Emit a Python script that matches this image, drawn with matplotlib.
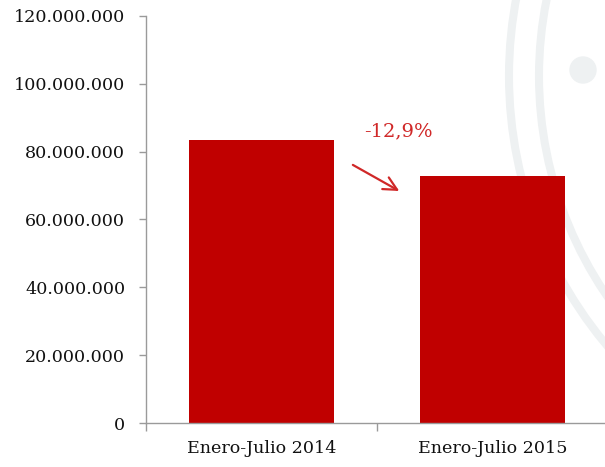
import matplotlib
matplotlib.use('Agg')
from matplotlib import pyplot as plt
from matplotlib.patches import Circle
from matplotlib.ticker import FuncFormatter

### DATA
categories = ['Enero-Julio 2014', 'Enero-Julio 2015']
values = [83_500_000, 72_700_000]
change_label = '-12,9%'
y_ticks = [0, 20_000_000, 40_000_000, 60_000_000, 80_000_000, 100_000_000, 120_000_000]

### STYLE
BAR_RED = '#c00000'
TEXT_RED = '#d02828'
AXIS_GREY = '#9a9a9a'
DECO_GREY = '#eef1f2'
plt.rcParams['font.family'] = ['DejaVu Serif']

W, H = 605, 467
fig = plt.figure(figsize=(W / 100, H / 100), dpi=100)

# faint decorative rings in the background, in inches from the bottom-left
for r in [420, 390]:
    fig.patches.append(Circle((929 / 100, (H - 76) / 100), r / 100, fill=False, color=DECO_GREY,
                              lw=5.8, transform=fig.dpi_scale_trans, zorder=-1))
fig.patches.append(Circle((583 / 100, (H - 70) / 100), 0.13, color=DECO_GREY,
                          transform=fig.dpi_scale_trans, zorder=-1))

ax = fig.add_axes([146 / W, 1 - 423 / H, 462 / W, 407 / H], zorder=1)
ax.set_facecolor('none')

x = range(len(categories))
ax.bar(x, values, width=0.63, color=BAR_RED, zorder=2)

ax.set_xlim(-0.5, 1.5)
ax.set_ylim(0, 120_000_000)
ax.set_yticks(y_ticks)
ax.yaxis.set_major_formatter(FuncFormatter(lambda v, _: f'{int(v):,}'.replace(',', '.')))

ax.set_xticks([-0.5, 0.5, 1.5])
ax.set_xticklabels([])
ax.set_xticks(list(x), minor=True)
ax.set_xticklabels(categories, minor=True)

for s in ['top', 'right']:
    ax.spines[s].set_visible(False)
for s in ['left', 'bottom']:
    ax.spines[s].set_color(AXIS_GREY)
    ax.spines[s].set_linewidth(1)

ax.tick_params(axis='y', length=5, width=1, color=AXIS_GREY, pad=10, labelsize=12.6, labelcolor='#111111')
ax.tick_params(axis='x', which='major', length=6, width=1, color=AXIS_GREY)
ax.tick_params(axis='x', which='minor', length=0, pad=12, labelsize=12.6, labelcolor='#111111')

# change annotation
ax.annotate('', xy=(0.607, 68_000_000), xytext=(0.385, 76_500_000),
            arrowprops=dict(arrowstyle='->', color=TEXT_RED, lw=1.6, mutation_scale=24))
ax.text(0.594, 86_000_000, change_label, color=TEXT_RED, fontsize=14, ha='center', va='center')

fig.savefig('out.png', dpi=100)
